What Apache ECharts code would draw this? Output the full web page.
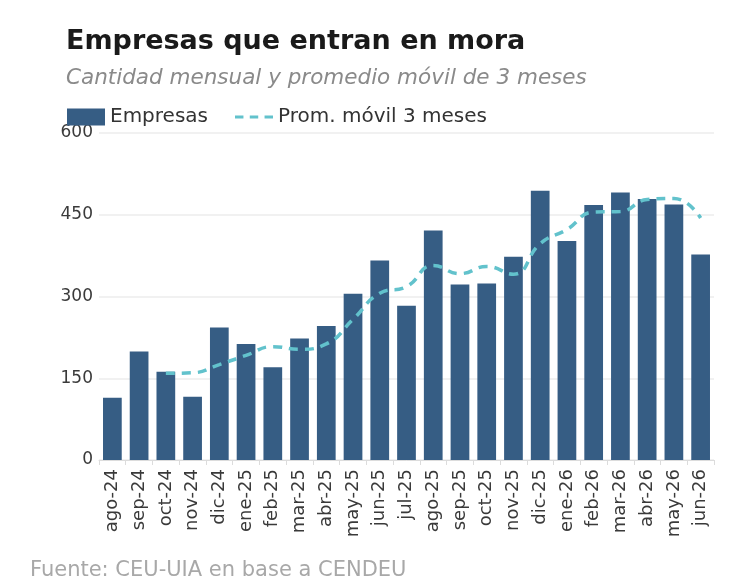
<!DOCTYPE html>
<html style="height: 100%">
<head>
    <meta charset="utf-8">
</head>
<body style="height: 100%; margin: 0; background: #fff">
    <div id="container" style="width: 750px; height: 588px"></div>
    <script type="text/javascript" src="https://cdn.jsdelivr.net/npm/echarts@6/dist/echarts.min.js"></script>
    <script type="text/javascript">
        var months = ['ago-24', 'sep-24', 'oct-24', 'nov-24', 'dic-24', 'ene-25', 'feb-25', 'mar-25', 'abr-25', 'may-25', 'jun-25', 'jul-25',
            'ago-25', 'sep-25', 'oct-25', 'nov-25', 'dic-25', 'ene-26', 'feb-26', 'mar-26', 'abr-26', 'may-26', 'jun-26'];
        var empresas = [114, 199, 162, 116, 243, 213, 170, 223, 246, 305, 366, 283,
            421, 322, 324, 373, 494, 402, 468, 491, 479, 469, 377];
        // promedio movil (arranca en oct-24)
        var promedio = [null, null, 159, 160, 175, 192, 208, 203, 213, 258, 306, 318,
            357, 342, 355, 341, 397, 423, 455, 456, 478, 480, 444];
        var yTicks = [0, 150, 300, 450, 600];

        var font = 'DejaVu Sans';
        var chart = echarts.init(document.getElementById('container'));
        var option = {
            backgroundColor: '#fff',
            title: [
                {
                    text: 'Empresas que entran en mora',
                    left: 61, top: 23,
                    textStyle: { fontFamily: font, fontSize: 27, fontWeight: 'bold', color: '#1a1a1a' }
                },
                {
                    text: 'Cantidad mensual y promedio móvil de 3 meses',
                    left: 61, top: 62,
                    textStyle: { fontFamily: font, fontSize: 21.5, fontStyle: 'italic', fontWeight: 'normal', color: '#8a8a8a' }
                },
                {
                    text: 'Fuente: CEU-UIA en base a CENDEU',
                    left: 25, top: 555,
                    textStyle: { fontFamily: font, fontSize: 21, fontWeight: 'normal', color: '#a8a8a8' }
                }
            ],
            legend: {
                left: 62, top: 102,
                itemGap: 27,
                itemWidth: 38,
                itemHeight: 17,
                textStyle: { fontFamily: font, fontSize: 20, color: '#333' },
                data: [
                    { name: 'Empresas', icon: 'rect' },
                    { name: 'Prom. móvil 3 meses', icon: 'path://M0,0H8V3H0Z M14,0H22V3H14Z M28,0H36V3H28Z', itemHeight: 3 }
                ]
            },
            grid: { left: 99, right: 36, top: 133, bottom: 128 },
            xAxis: {
                type: 'category',
                data: months,
                axisLine: { lineStyle: { color: '#dcdcdc' } },
                axisTick: { show: true, lineStyle: { color: '#dcdcdc' } },
                axisLabel: { rotate: 90, fontFamily: font, fontSize: 18, color: '#3a3a3a', margin: 9 }
            },
            yAxis: {
                type: 'value',
                min: yTicks[0],
                max: yTicks[yTicks.length - 1],
                interval: 150,
                axisLine: { show: false },
                axisTick: { show: false },
                splitLine: { lineStyle: { color: '#ececec', width: 1.5 } },
                axisLabel: { fontFamily: font, fontSize: 17, color: '#3a3a3a', margin: 6 }
            },
            series: [
                {
                    name: 'Empresas',
                    type: 'bar',
                    barWidth: '70%',
                    itemStyle: { color: '#365d84' },
                    data: empresas
                },
                {
                    name: 'Prom. móvil 3 meses',
                    type: 'line',
                    smooth: true,
                    showSymbol: false,
                    symbol: 'none',
                    lineStyle: { color: '#62c2cc', width: 3.5, type: [9, 7] },
                    itemStyle: { color: '#62c2cc' },
                    data: promedio
                }
            ]
        };
        chart.setOption(option);
    </script>
</body>
</html>
